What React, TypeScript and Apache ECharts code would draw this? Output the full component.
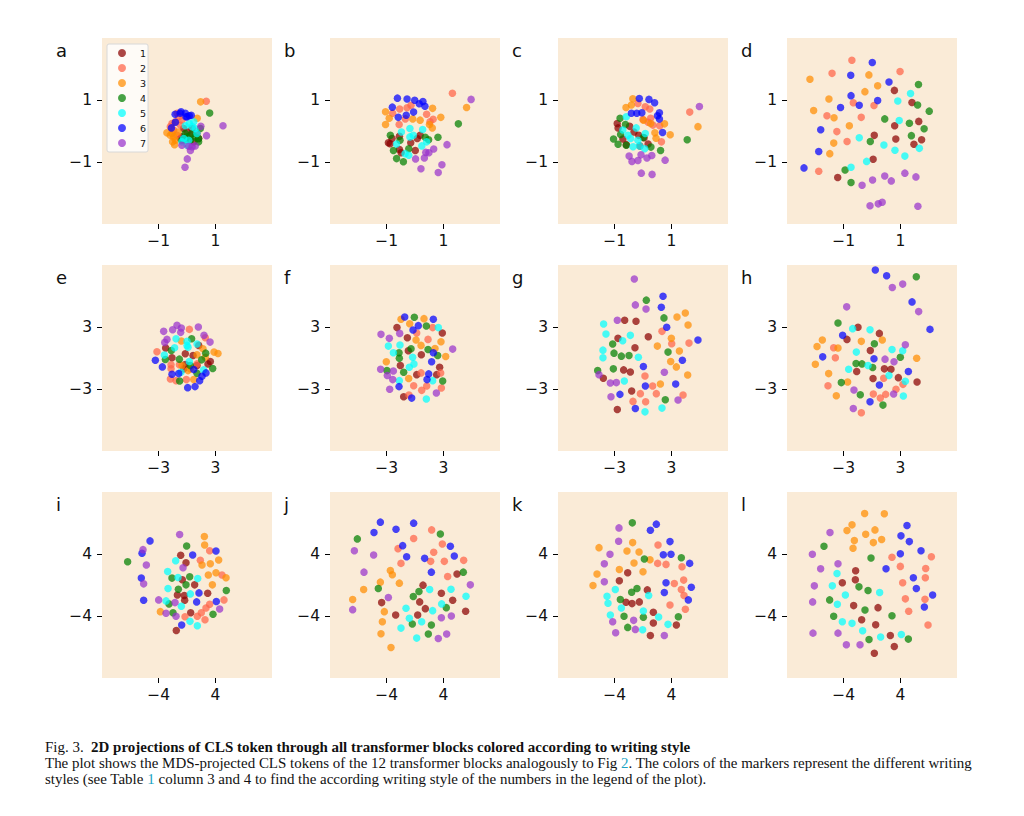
import React, { useEffect, useRef } from "react";
import * as echarts from "echarts";

type P = [number, number][][];

const panelA: P = [
  [[0,-0.03],[-0.18,-0.19],[0.18,0.08],[0.35,-0.08],[-0.06,-0.3],[0.12,-0.14],[-0.24,-0.24],[0.41,-0.24],[-0.12,0.08],[0.24,-0.35]],
  [[0.68,0.96],[-0.29,0.46],[-0.41,0.3],[-0.24,0.19],[-0.59,0.14],[-0.35,0.57],[-0.18,0.35],[-0.47,0.03],[-0.35,-0.14],[-0.53,0.24]],
  [[0.48,0.94],[0.36,0.41],[-0.71,-0.06],[-0.53,-0.08],[-0.47,-0.19],[-0.41,-0.3],[-0.44,-0.44],[-0.32,-0.03],[-0.59,-0.14],[-0.51,-0.35]],
  [[0.8,0.58],[0.41,-0.24],[0.47,0.08],[-0.18,-0.3],[0.18,-0.08],[0.29,-0.19],[0,-0.19],[0.41,-0.35],[-0.06,-0.08],[0.12,-0.3]],
  [[0.08,0.24],[0.24,0.3],[0.29,0.08],[-0.12,-0.24],[0.06,-0.3],[0.18,0.14],[-0.06,0.17],[0.35,-0.08],[0,-0.46],[-0.18,-0.35]],
  [[-0.42,0.54],[-0.21,0.62],[-0.06,0.57],[0.08,0.49],[0,0.46],[-0.41,0.28],[-0.55,0.1],[-0.24,0.57],[-0.04,0.46],[0.15,0.51]],
  [[1.27,0.17],[0.49,0.15],[0.69,-0.15],[0.06,-0.49],[0.29,-0.48],[0.18,-0.51],[0.12,-0.63],[0.01,-0.9],[-0.07,-1.17],[-0.18,-0.46]],
];
const panelB: P = [
  [[-0.94,-0.38],[-0.81,-0.24],[-0.55,-0.17],[-0.88,-0.41],[-0.55,-0.6],[-0.49,-0.7],[-0.15,-0.38],[0.08,-0.24],[0.18,-0.14],[0.01,-0.63]],
  [[1.32,1.22],[-0.14,0.83],[-0.28,0.75],[-0.54,0.71],[-0.79,0.57],[0.41,0.54],[0.64,0.38],[-0.56,0.21],[-0.34,0.39],[0.53,0.3]],
  [[1.82,0.76],[0.62,0.73],[-1.04,0.62],[-0.91,0.41],[-1.04,0.21],[-0.08,0.39],[0.18,0.35],[0.91,0.44],[0.51,0.21],[0.61,0.1]],
  [[1.53,0.23],[0.81,-0.2],[-0.87,-0.14],[0.48,-0.28],[0.36,-0.2],[-0.53,-0.3],[-0.22,-0.57],[-0.76,-0.63],[-0.65,-0.89],[-0.41,-0.99]],
  [[-0.18,0.08],[0.27,0.05],[-0.48,-0.03],[-0.18,-0.19],[-0.65,-0.42],[0.24,-0.48],[-0.22,-0.78],[-0.06,-0.14],[-0.35,-0.73],[0.41,-0.35]],
  [[-0.62,1.06],[-0.28,1.03],[-0.01,0.99],[0.28,0.95],[0.15,0.88],[0.35,0.8],[-0.8,0.77],[-0.05,0.61],[-0.31,0.51],[-0.59,0.44]],
  [[1.98,1.02],[1.13,-0.44],[0.66,-0.58],[0.49,-0.7],[0.38,-0.69],[0.33,-0.87],[0.02,-0.9],[0.21,-1.22],[0.95,-1.09],[0.82,-1.34]],
];
const panelC: P = [
  [[-0.91,0.24],[-0.88,0.1],[-0.47,0.15],[-0.32,-0.03],[-0.15,-0.14],[-0.71,-0.26],[-0.59,-0.44],[0.18,-0.42],[-0.11,-0.48],[0.04,-0.22]],
  [[1.65,0.61],[0.08,0.78],[0.24,0.71],[-0.18,0.89],[0,0.37],[0.18,0.28],[0.35,0.19],[0.59,0.17],[0.65,-0.35],[0.27,0.41]],
  [[1.94,0.14],[-0.36,1.04],[-0.6,0.76],[-0.41,0.84],[0.02,0.35],[0.76,0.23],[0.42,-0.06],[0.46,-0.23],[0.96,-0.12],[0.27,0.24]],
  [[1.56,-0.28],[-0.81,0.41],[-0.62,0.21],[-0.79,-0.11],[-1.04,-0.26],[-0.88,-0.43],[-0.59,-0.46],[0.01,-0.21],[0.28,-0.52],[0.62,-0.63]],
  [[-0.59,0.46],[-0.71,0.03],[-0.24,0.1],[0.08,-0.08],[-0.44,-0.24],[-0.18,-0.3],[-0.35,-0.51],[-0.12,-0.48],[0.06,-0.57],[-0.53,-0.14]],
  [[-0.13,1.05],[0.21,1.02],[0.41,0.91],[-0.41,0.57],[-0.22,0.57],[-0.04,0.59],[0.58,0.59],[0.51,0.49],[0.58,0.39],[0.69,-0.05]],
  [[1.99,0.79],[-0.49,-0.81],[-0.39,-0.98],[-0.18,-0.95],[-0.07,-0.77],[0.14,-0.87],[0.31,-0.79],[0.78,-0.94],[-0.06,-1.36],[0.32,-1.4]],
];
const panelD: P = [
  [[0.79,1.31],[1.41,0.92],[1.65,0.31],[0.8,0.17],[0.08,-0.14],[0.84,-0.26],[1.75,-0.28],[1.48,-0.43],[0.04,-0.91],[-1.21,-1.5]],
  [[-0.71,2.28],[-1.41,1.86],[0.99,1.92],[-0.66,0.91],[0.07,0.82],[-1.59,0.49],[-0.38,0.44],[-1.24,-0.02],[-0.88,-0.34],[-1.88,-1.3]],
  [[-2.19,1.67],[-0.11,1.81],[0.2,1.46],[-0.25,1.27],[-1.52,1.03],[-2.06,0.66],[-1.34,0.43],[-0.8,0.17],[-1.35,-0.39],[-1.49,-0.73]],
  [[1.64,1.5],[1.61,0.84],[2.02,0.64],[0.45,0.39],[1.32,0.25],[1.84,0.07],[1.39,-0.15],[-0.06,-0.34],[-0.95,-1.26],[-0.74,-1.66]],
  [[1.36,1.21],[0.91,0.97],[0.96,0.34],[-0.45,-0.22],[0.42,-0.45],[0.81,-0.62],[1.67,-0.56],[1.16,-0.81],[-0.19,-0.98],[-0.74,-1.17]],
  [[0.01,2.21],[-0.75,1.8],[0.6,1.58],[-0.74,1.14],[0.2,0.98],[-0.45,0.83],[-1.11,0.76],[-1.81,0.04],[-1.88,-0.66],[-2.4,-1.19]],
  [[1.16,-1.36],[1.55,-1.48],[0.45,-1.45],[0.68,-1.61],[0.02,-1.58],[-0.35,-1.75],[0.36,-2.3],[0.22,-2.35],[-0.07,-2.41],[1.62,-2.43]],
];
const panelE: P = [
  [[-2.26,0.96],[-1.59,0.02],[-0.18,0.41],[0.64,0.24],[-0.18,-0.63],[2.47,-0.34],[2.22,-0.57],[1.06,-0.73],[-0.35,-1.05],[1.24,1.22]],
  [[0.25,2.77],[1.94,1.96],[-3.18,0.6],[-1.69,-0.66],[-0.81,-0.66],[-1.76,-2.03],[-1.16,-2.19],[-0.07,-2.09],[1.06,-0.57],[-1.69,-1.05]],
  [[-0.6,1.64],[2.86,0.57],[3.28,0.44],[1.69,0.89],[1.06,0.31],[0.11,-1.22],[0.71,-2.09],[-0.53,-0.73],[1.94,0.08],[0.35,-1.05]],
  [[0.49,1.87],[-1.66,0.73],[-2.29,-0.15],[-0.81,-0.11],[1.98,0.47],[1.55,-0.18],[2.72,-1.02],[1.06,-1.48],[-0.78,-2.22],[0.35,-0.73]],
  [[-1.16,1.87],[0,1.61],[1.06,1.35],[-1.31,0.99],[0.11,1.05],[-2.4,0.28],[0.25,-0.34],[-0.64,-1.38],[1.76,-1.15],[0,1.22]],
  [[-3.35,-0.21],[-2.61,-0.86],[-1.59,-1.57],[-0.88,-1.51],[0.71,-1.12],[2.01,-1.44],[1.59,-1.77],[1.34,-2.19],[0.85,-2.77],[0.07,-2.87]],
  [[-1.06,3.16],[-1.52,2.74],[-0.6,2.9],[-0.67,2.48],[-2.47,2.58],[-2.12,1.8],[-2.36,1.51],[1.2,3.0],[1.8,2.19],[2.44,1.54]],
];
const panelF: P = [
  [[-1.91,2.94],[-0.81,1.96],[2.89,2.42],[-0.71,0.7],[0.67,0.31],[-1.55,-0.73],[2.61,-0.89],[0.18,-1.61],[2.29,-1.61],[-1.2,-3.75]],
  [[0.18,2.42],[1.38,1.8],[1.87,2.94],[0.64,-1.44],[2.72,-1.44],[-0.14,-2.68],[1.24,-2.71],[0.71,-3.13],[2.79,-2.9],[-0.64,-3.58]],
  [[-1.48,3.75],[0.95,3.81],[-0.56,3.32],[0.11,1.74],[2.75,1.57],[0.64,1.22],[2.12,0.92],[3.25,0.15],[-3.04,-0.37],[-0.67,-1.99]],
  [[-0.07,3.94],[1.2,3.1],[-0.42,0.89],[1.38,0.83],[-1.69,0.5],[2.4,0.24],[-1.66,-0.02],[-2.97,-1.22],[-1.2,-1.38],[2.93,-2.22]],
  [[2.47,2.94],[-2.82,1.15],[-1.59,1.25],[-2.29,0.5],[-0.25,0.08],[-0.11,-0.57],[-0.6,-0.89],[-1.66,-2.19],[1.87,-2.19],[1.2,-3.97]],
  [[-1.09,3.97],[1.94,3.75],[0.35,3.13],[-0.21,2.71],[1.94,0.5],[1.76,-0.37],[1.45,-1.54],[1.27,-2.09],[-1.69,-2.77],[-0.35,-3.88]],
  [[-3.6,2.29],[-2.72,1.9],[-1.62,2.38],[3.99,0.86],[-3.64,-1.09],[-2.29,-1.25],[-2.93,-1.7],[-2.36,-2.09],[-2.68,-3.03],[2.26,-3.39]],
];
const panelG: P = [
  [[-1.94,3.65],[-0.74,3.55],[-2.65,1.9],[0.56,2.06],[-0.85,0.99],[-2.05,-1.15],[-1.34,-1.35],[-4.2,-1.96],[-1.2,-3.19],[-2.72,-4.98]],
  [[2.01,2.58],[3.04,1.38],[4.87,1.44],[0.21,-1.74],[1.02,-2.71],[-0.28,-3.45],[1.41,-3.45],[4.24,-3.58],[-1.06,-4.2],[0.28,-4.23]],
  [[3.6,3.97],[4.48,4.36],[4.77,3.19],[3,1.9],[1.52,1.15],[3.85,0.67],[2.93,-0.34],[3.53,-0.86],[4.73,-1.64],[1.84,-2.51]],
  [[0.35,5.6],[2.22,3.88],[-3.21,1.35],[-3.07,0.47],[-2.29,0.18],[-1.48,0.24],[2.65,0.57],[-4.8,-1.22],[-3.14,-1.05],[2.36,-4.04]],
  [[-4.17,3.29],[-3.92,2.32],[-1.34,2.19],[-2.15,1.67],[-4.24,0.76],[-4.24,0.02],[-0.49,0.08],[-1.98,-2.22],[0.21,-5.21],[2.01,-4.85]],
  [[2.12,5.98],[1.94,4.91],[2.51,2.97],[5.82,1.74],[4.17,-0.21],[0.04,-0.83],[0.25,-2.71],[3.46,-2.51],[-2.44,-3.52],[-0.81,-4.88]],
  [[-0.92,7.64],[-0.81,5.14],[0.32,4.75],[-2.72,3.65],[2.26,-1.38],[-4.66,-1.61],[-3.46,-2.42],[-2.82,-2.38],[-3.39,-3.75],[3.71,-4.07]],
];
const panelH: P = [
  [[-1.48,2.97],[0.78,2.38],[-2.65,1.8],[-0.18,0.73],[-1.62,-1.31],[1.31,-1.05],[2.01,-1.09],[0.11,-1.99],[2.79,-1.9],[4.77,-2.32]],
  [[-4.06,0.99],[-3.88,0.02],[1.24,-1.96],[-4.66,-2.68],[3.28,-2.55],[2.54,-3.03],[0.14,-3.49],[1.45,-3.52],[0.88,-3.88],[-1.13,-5.3]],
  [[-5.26,1.74],[-5.82,1.12],[-3.6,0.96],[-1.13,1.61],[1.09,1.74],[4.73,-0.02],[-6,-0.6],[-4.59,-1.51],[-2.58,-2.32],[-3.78,-3.65]],
  [[4.69,7.87],[-3.6,3.39],[0.25,1.38],[3,0.08],[-1.69,-0.54],[-1.06,-0.57],[0.07,-0.92],[-3.25,-2.38],[-1.24,-3.55],[1.16,-4.56]],
  [[-2.05,2.84],[-0.21,2.74],[2.12,0.83],[3.25,0.7],[-1.66,0.57],[-0.42,-0.73],[-2.47,-1.09],[1.8,-1.7],[3.53,-2.25],[3.32,-3.68]],
  [[0.35,8.51],[1.55,7.96],[4.24,5.43],[6.14,2.77],[-3.11,2.19],[-5.22,0.11],[0.21,-0.08],[3.85,-1.31],[0.78,-2.61],[-0.21,-4.23]],
  [[2.15,6.83],[3.25,7.15],[4.94,4.49],[-2.68,4.95],[3.53,1.28],[1.38,-0.11],[2.33,-0.37],[-1.91,-3.1],[2.29,-3.49],[-1.98,-4.88]],
];
const panelI: P = [
  [[-0.89,3.83],[-0.14,2.88],[-0.66,0.67],[1.08,0.02],[2.92,-1.06],[-1.36,-1.28],[-0.38,-1.36],[-0.33,-1.97],[0.52,-3.57],[-1.51,-5.86]],
  [[3.2,4.43],[1.88,3.18],[4.94,1.28],[5.22,-1.92],[3.2,-2.49],[2.68,-2.96],[2.02,-3.57],[1.46,-4.04],[2.54,-4.48],[-0.28,-4.09]],
  [[2.45,6.25],[2.49,5.17],[4.47,3.22],[3.29,2.75],[2.12,2.57],[4.09,1.58],[3.01,1.28],[5.51,0.93],[3.58,0.02],[-3.76,-3.44]],
  [[-8.38,3.0],[-0.05,5.04],[-2.12,0.89],[0.38,1.06],[-0.14,0.02],[5.55,-0.71],[-1.22,-0.54],[-2.54,-2.44],[-1.98,-3.57],[3.67,-3.78]],
  [[-1.6,3.14],[-2.73,1.75],[-1.27,0.97],[1.51,0.84],[-2.68,-0.45],[0.47,-1.15],[-2.96,-2.05],[-0.8,-2.75],[0.42,-4.69],[1.46,-5.25]],
  [[-5.22,5.69],[-6.35,4.09],[0.8,3.87],[4.09,4.39],[-6.45,0.89],[1.69,-1.02],[-6.12,-1.97],[1.36,-2.18],[4.14,-2.14],[-0.75,-5.17]],
  [[-1.04,6.51],[-6.21,4.56],[-5.74,2.57],[-0.56,2.23],[-6.12,0.15],[-4,-1.92],[-1.69,-2.27],[4.61,-3.09],[-2.96,-3.65],[-1.55,-4.04]],
];
const panelJ: P = [
  [[1.13,-0.02],[5.93,1.41],[3.72,-1.06],[5.32,-1.97],[-4.71,-2.27],[0.66,-2.18],[1.46,-3.05],[-2.73,-3.87],[0.38,-3.87],[7.15,-3.39]],
  [[2.35,7.11],[-0.19,5.99],[3.86,5.3],[-2.4,4.69],[2.64,4.22],[2.21,3.05],[4.14,3.05],[6.87,3.18],[-1.98,2.79],[4.61,1.1]],
  [[-3.48,1.88],[-3.2,1.32],[-4.89,0.37],[-2.21,0.24],[-7.25,-0.58],[-8.8,-1.88],[-4.33,-3.44],[-4.61,-4.74],[-4.8,-6.29],[-3.39,-8.06]],
  [[-8.14,5.95],[3.58,6.59],[6.82,1.66],[-5.18,-0.45],[0.56,-0.84],[-0.24,-1.49],[4.42,-2.92],[-0.38,-5.04],[2.31,-5.17],[1.88,-6.33]],
  [[2.07,-0.58],[5.08,-0.54],[7.2,-1.45],[3.76,-2.44],[-1.27,-3.0],[2.49,-3.31],[-0.8,-4.3],[0.94,-4.74],[-1.98,-5.56],[0.24,-6.85]],
  [[-4.89,8.11],[-0.19,7.98],[-5.79,6.77],[-2.68,7.2],[4.99,4.99],[-1.74,5.08],[5.55,3.74],[-1.18,3.65],[1.36,3.44],[2.31,1.66]],
  [[-8.56,4.43],[-5.84,3.87],[-7.2,1.66],[7.81,0.02],[-3.76,-1.62],[-8.8,-3.18],[3.72,-4.22],[5.13,-4],[3.29,-6.9],[4.47,-6.33]],
];
const panelK: P = [
  [[-2.16,1.58],[-3.34,0.54],[0.61,-0.63],[-2.4,-2.23],[-1.55,-2.4],[-0.52,-2.18],[1.46,-3.52],[1.46,-4.91],[4.71,-5.17],[1.04,-6.51]],
  [[2.12,5.17],[2.07,2.79],[3.25,2.66],[5.51,2.36],[4.42,0.19],[5.74,0.63],[5.41,-0.58],[5.79,-1.36],[3.81,-2.57],[5.98,-3.14]],
  [[-6.21,4.82],[-1.46,5.47],[-2.26,4.39],[-0.56,4.26],[0.99,3.26],[-1.27,2.83],[-3.34,2.01],[0,1.71],[-6.49,1.41],[-7.06,-0.06]],
  [[-1.51,8.02],[0.19,3.35],[5.41,3.52],[-0.85,-0.45],[-1.6,-0.93],[-3.2,-1.88],[-2.68,-4.04],[0.05,-4.17],[4.99,-4.09],[-2.16,-5.47]],
  [[-3.91,-0.58],[-5.08,-1.45],[-4.94,-2.36],[0.8,-1.36],[-3.06,-2.96],[0.05,-3.35],[-4.61,-3.87],[2.21,-4.13],[3.53,-5.08],[-0.05,-5.77]],
  [[1.88,7.85],[1.04,7.07],[3.81,5.6],[2.87,3.91],[3.95,3.96],[6.59,2.79],[3.25,0.28],[6.82,-0.28],[3.01,-0.97],[6.4,-1.92]],
  [[-3.39,7.37],[-3.44,5.64],[-4.66,3.96],[-5.46,2.75],[-5.46,0.41],[-4.28,-4.74],[-1.32,-4.56],[-1.08,-5.73],[-3.86,-6.16],[3.01,-6.51]],
];
const panelL: P = [
  [[-2.31,1.84],[-2.35,0.67],[-4.19,0.28],[-2.59,-2.66],[0.85,-2.92],[-1.46,-4.48],[0.52,-5.12],[2.59,-6.51],[3.15,-7.94],[0.33,-8.8]],
  [[2.82,3.57],[8.38,3.65],[4,2.4],[7.58,2.14],[7.53,0.93],[4.33,0.28],[4.71,-1.79],[7.48,-1.84],[5.18,-3.39],[7.91,-5.17]],
  [[-1.04,9.23],[1.74,9.19],[-2.82,7.76],[-3.53,7.03],[0.42,7.11],[-0.89,6.55],[-2.49,5.73],[0.19,5.47],[1.36,5.86],[-2.68,4.74]],
  [[-6.78,4.99],[-0.14,3.48],[-1.84,-0.24],[-0.56,-0.71],[-5.98,-1.92],[-0.99,-3.22],[2.82,-3.96],[-5.41,-4.04],[-0.42,-7.03],[5.13,-6.98]],
  [[-4.94,1.49],[-5.6,-0.11],[-3.76,-1.28],[1.08,-0.97],[-4.89,-2.49],[-4.19,-4.74],[-2.82,-4.95],[-1.32,-5.9],[1.22,-6.72],[4.14,-6.38]],
  [[4.94,7.68],[4.09,6.34],[5.27,5.6],[6.92,4.43],[4,4.04],[1.98,2.1],[5.84,0.93],[6.26,-0.45],[8.56,-1.28],[7.39,-2.83]],
  [[-5.93,6.77],[-8.42,3.96],[-4.8,2.75],[-7.25,2.1],[-8.14,-0.11],[-8.38,-2.18],[-8.33,-6.21],[-4.8,-6.21],[-3.62,-7.72],[-1.69,-7.72]],
];

const panels = [panelA, panelB, panelC, panelD, panelE, panelF, panelG, panelH, panelI, panelJ, panelK, panelL];
const panelLetters = ["a", "b", "c", "d", "e", "f", "g", "h", "i", "j", "k", "l"];
const styleNames = ["1", "2", "3", "4", "5", "6", "7"];
const styleColors = ["#8b0000", "#ff6347", "#ff8c00", "#008000", "#00ffff", "#0000ff", "#9932cc"];
const rowLimits = [3, 9, 12];
const rowTicks = [[-1, 1], [-3, 3], [-4, 4]];

const colLefts = [102, 330, 558, 787];
const rowTops = [38, 265, 492];
const panelW = 170;
const panelH_ = 186;

const captionFig = "Fig. 3.";
const captionTitle = "2D projections of CLS token through all transformer blocks colored according to writing style";
const captionLine2a = "The plot shows the MDS-projected CLS tokens of the 12 transformer blocks analogously to Fig ";
const captionLine2b = ". The colors of the markers represent the different writing";
const captionLine3a = "styles (see Table ";
const captionLine3b = " column 3 and 4 to find the according writing style of the numbers in the legend of the plot).";

const tickFont = "DejaVu Sans";
const serif = "Liberation Serif";

export default function App() {
  const ref = useRef<HTMLDivElement>(null);
  useEffect(() => {
    document.body.style.margin = "0";
    const chart = echarts.init(ref.current!, undefined, { renderer: "svg" });
    const grid: any[] = [];
    const xAxis: any[] = [];
    const yAxis: any[] = [];
    const series: any[] = [];
    const graphic: any[] = [];
    panels.forEach((panel, i) => {
      const col = i % 4;
      const row = Math.floor(i / 4);
      const L = rowLimits[row];
      const ticks = rowTicks[row];
      grid.push({
        left: colLefts[col],
        top: rowTops[row],
        width: panelW,
        height: panelH_,
        show: true,
        backgroundColor: "#faebd7",
        borderWidth: 0,
      });
      const axisCommon = {
        gridIndex: i,
        type: "value",
        min: -L,
        max: L,
        splitLine: { show: false },
        axisLine: { show: false, onZero: false },
        axisTick: { show: true, length: 5, customValues: ticks, lineStyle: { color: "#000", width: 1 } },
      };
      const labelCommon = {
        show: true,
        customValues: ticks,
        color: "#111",
        fontFamily: tickFont,
        fontSize: 15.5,
        formatter: (v: number) => String(v).replace("-", "\u2212"),
      };
      xAxis.push({ ...axisCommon, position: "bottom", axisLabel: { ...labelCommon, margin: 9 } });
      yAxis.push({ ...axisCommon, position: "left", axisLabel: { ...labelCommon, margin: 10 } });
      panel.forEach((pts, s) => {
        series.push({
          type: "scatter",
          name: styleNames[s],
          xAxisIndex: i,
          yAxisIndex: i,
          data: pts,
          symbol: "circle",
          symbolSize: 7.5,
          itemStyle: { color: styleColors[s], opacity: 0.72, borderWidth: 0 },
          emphasis: { disabled: true },
          silent: true,
        });
      });
      graphic.push({
        type: "text",
        x: colLefts[col] - 46,
        y: rowTops[row] + 12,
        style: {
          text: panelLetters[i],
          font: `18px "${tickFont}"`,
          fill: "#111",
          verticalAlign: "middle",
        },
      });
    });
    const capFont = (w: string) => `${w} 14.96px "${serif}"`;
    graphic.push(
      {
        type: "text",
        x: 45,
        y: 747,
        style: {
          text: `${captionFig}  {b|${captionTitle}}`,
          font: capFont("normal"),
          fill: "#111",
          verticalAlign: "middle",
          rich: { b: { font: capFont("bold"), fill: "#111" } },
        },
      },
      {
        type: "text",
        x: 45,
        y: 763,
        style: {
          text: `${captionLine2a}{c|2}${captionLine2b}`,
          font: capFont("normal"),
          fill: "#111",
          verticalAlign: "middle",
          rich: { c: { font: capFont("normal"), fill: "#1aa3c4" } },
        },
      },
      {
        type: "text",
        x: 45,
        y: 779,
        style: {
          text: `${captionLine3a}{c|1}${captionLine3b}`,
          font: capFont("normal"),
          fill: "#111",
          verticalAlign: "middle",
          rich: { c: { font: capFont("normal"), fill: "#1aa3c4" } },
        },
      }
    );
    chart.setOption({
      animation: false,
      backgroundColor: "#fff",
      grid,
      xAxis,
      yAxis,
      series,
      graphic,
      legend: {
        data: styleNames.map((name) => ({ name, icon: "circle" })),
        orient: "vertical",
        left: 107,
        top: 44,
        padding: [4, 2, 4, 11],
        itemWidth: 18,
        itemHeight: 8,
        itemGap: 5,
        selectedMode: false,
        backgroundColor: "rgba(255,255,255,0.8)",
        borderColor: "#d8d8d8",
        borderWidth: 1,
        borderRadius: 2,
        textStyle: { fontFamily: tickFont, fontSize: 9.5, color: "#111", padding: [0, 0, 0, 4] },
      },
    });
    return () => chart.dispose();
  }, []);
  return <div ref={ref} style={{ position: "absolute", left: 0, top: 0, width: 1024, height: 816 }} />;
}
